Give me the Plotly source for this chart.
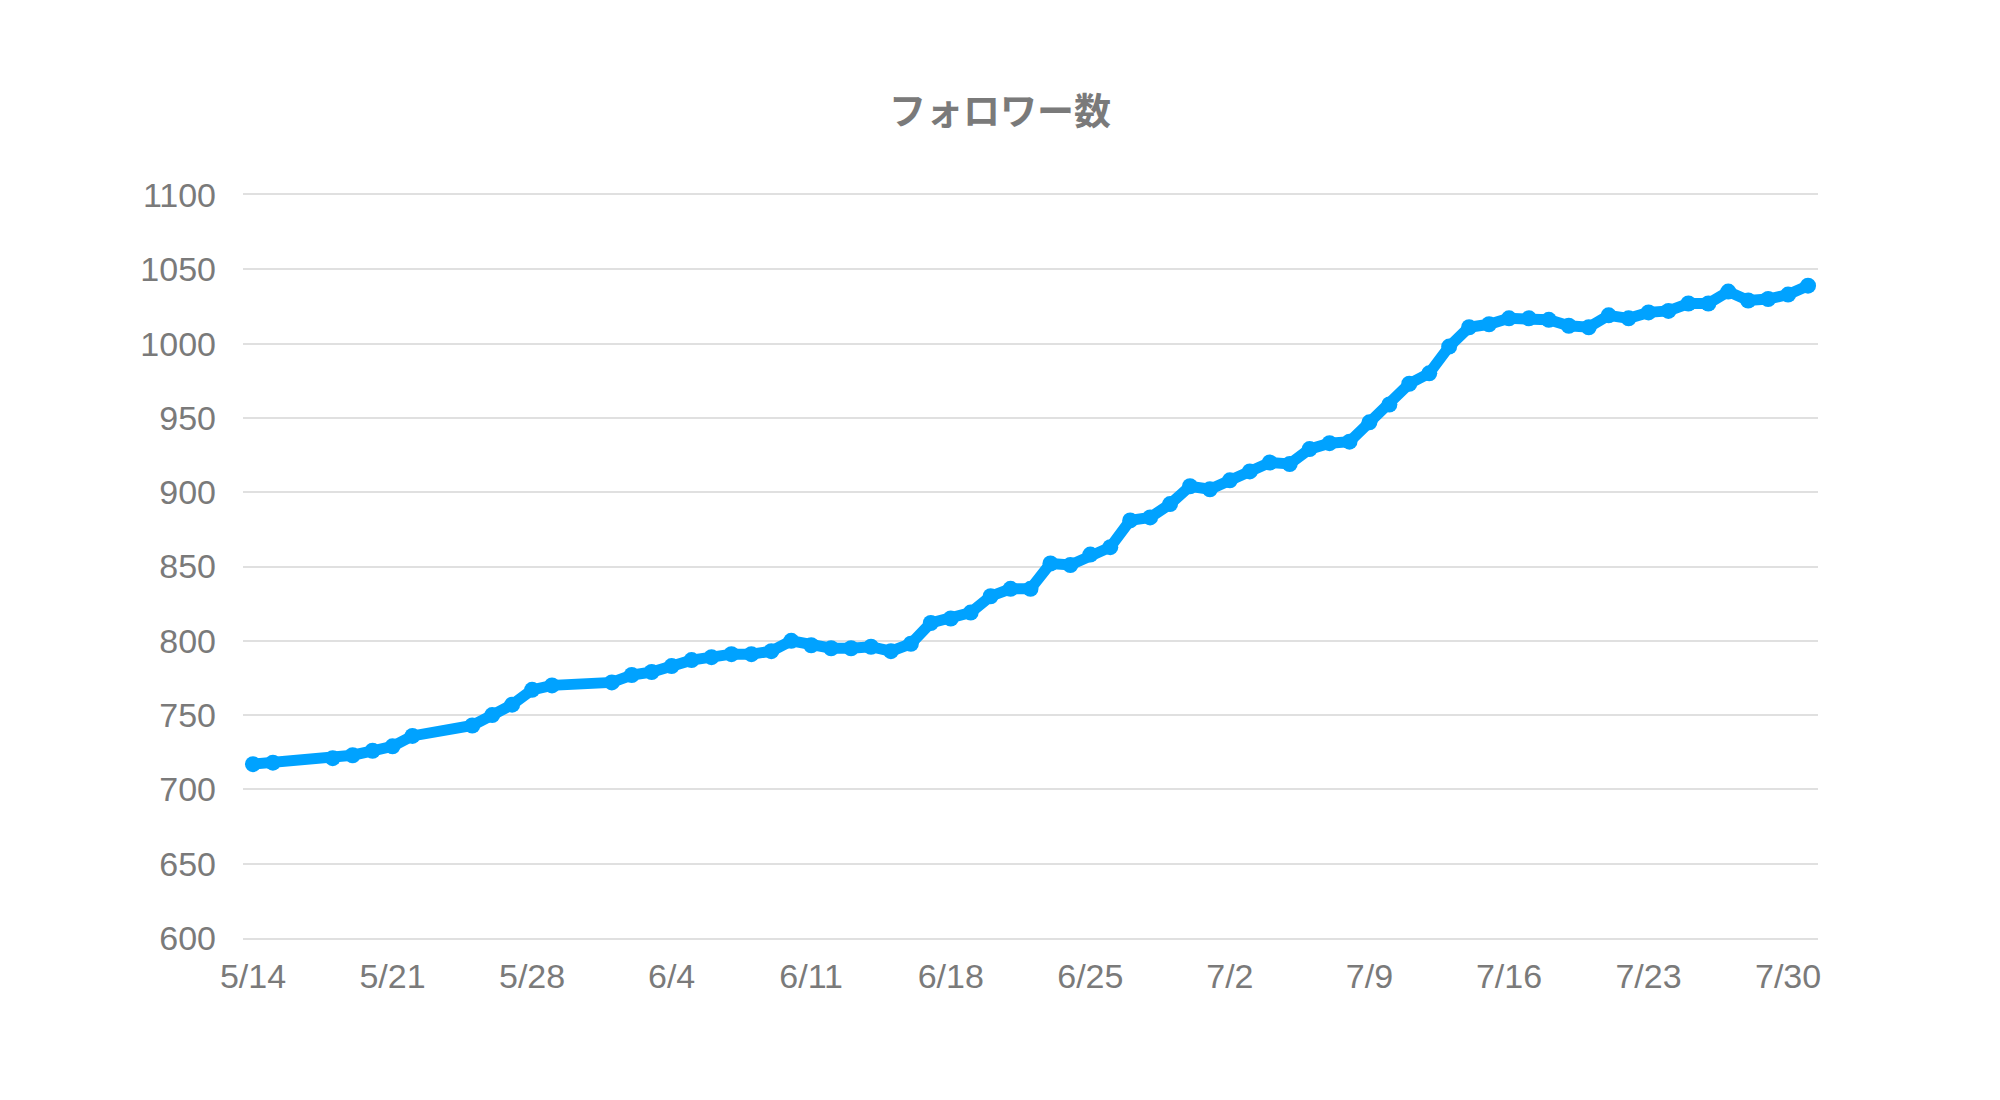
import plotly.graph_objects as go

# フォロワー数の推移 (5/14 - 7/31)
dates = [
    "2020-05-14", "2020-05-15", "2020-05-18", "2020-05-19", "2020-05-20",
    "2020-05-21", "2020-05-22", "2020-05-25", "2020-05-26", "2020-05-27",
    "2020-05-28", "2020-05-29", "2020-06-01", "2020-06-02", "2020-06-03",
    "2020-06-04", "2020-06-05", "2020-06-06", "2020-06-07", "2020-06-08",
    "2020-06-09", "2020-06-10", "2020-06-11", "2020-06-12", "2020-06-13",
    "2020-06-14", "2020-06-15", "2020-06-16", "2020-06-17", "2020-06-18",
    "2020-06-19", "2020-06-20", "2020-06-21", "2020-06-22", "2020-06-23",
    "2020-06-24", "2020-06-25", "2020-06-26", "2020-06-27", "2020-06-28",
    "2020-06-29", "2020-06-30", "2020-07-01", "2020-07-02", "2020-07-03",
    "2020-07-04", "2020-07-05", "2020-07-06", "2020-07-07", "2020-07-08",
    "2020-07-09", "2020-07-10", "2020-07-11", "2020-07-12", "2020-07-13",
    "2020-07-14", "2020-07-15", "2020-07-16", "2020-07-17", "2020-07-18",
    "2020-07-19", "2020-07-20", "2020-07-21", "2020-07-22", "2020-07-23",
    "2020-07-24", "2020-07-25", "2020-07-26", "2020-07-27", "2020-07-28",
    "2020-07-29", "2020-07-30", "2020-07-31",
]
followers = [
    717, 718, 721, 723, 726,
    729, 736, 743, 750, 757,
    767, 770, 772, 777, 779,
    783, 787, 789, 791, 791,
    793, 800, 797, 795, 795,
    796, 793, 798, 812, 815,
    819, 830, 835, 835, 852,
    851, 858, 863, 881, 883,
    892, 904, 902, 908, 914,
    920, 919, 929, 933, 934,
    947, 959, 973, 980, 998,
    1011, 1013, 1017, 1017, 1016,
    1012, 1011, 1019, 1017, 1021,
    1022, 1027, 1027, 1035, 1029,
    1030, 1033, 1039,
]

tick_dates = ["2020-05-14", "2020-05-21", "2020-05-28", "2020-06-04",
              "2020-06-11", "2020-06-18", "2020-06-25", "2020-07-02",
              "2020-07-09", "2020-07-16", "2020-07-23", "2020-07-30"]
tick_labels = ["5/14", "5/21", "5/28", "6/4", "6/11", "6/18",
               "6/25", "7/2", "7/9", "7/16", "7/23", "7/30"]

blue = "#00A2FF"
grey = "#7a7a7a"
grid = "#e0e0e0"

fig = go.Figure()
fig.add_trace(go.Scatter(
    x=dates, y=followers,
    mode="lines+markers",
    line=dict(color=blue, width=11),
    marker=dict(color=blue, size=16),
    showlegend=False,
))

fig.update_layout(
    width=2000, height=1100,
    paper_bgcolor="white", plot_bgcolor="white",
    margin=dict(l=235, r=190, t=187, b=170),
    title=dict(text="<b>フォロワー数</b>", x=0.496, xanchor="center", y=0.905, yanchor="middle",
               font=dict(family="Noto Sans CJK JP", size=37, color=grey)),
    font=dict(family="Liberation Sans, Arial", size=34, color=grey),
)
# top / bottom edges drawn as axis lines (same look as gridlines)
fig.update_xaxes(
    type="date",
    range=["2020-05-13 12:00", "2020-07-31 12:00"],
    tickvals=tick_dates, ticktext=tick_labels,
    showgrid=False, zeroline=False,
    showline=True, mirror=True, linecolor=grid, linewidth=2,
    ticklabelstandoff=7,
    tickfont=dict(size=34, color=grey),
)
fig.update_yaxes(
    range=[600, 1100], dtick=50,
    showgrid=True, gridcolor=grid, gridwidth=2,
    zeroline=False, showline=False,
    ticklabelstandoff=26,
    tickfont=dict(size=34, color=grey),
)

fig.write_html("out.html")
